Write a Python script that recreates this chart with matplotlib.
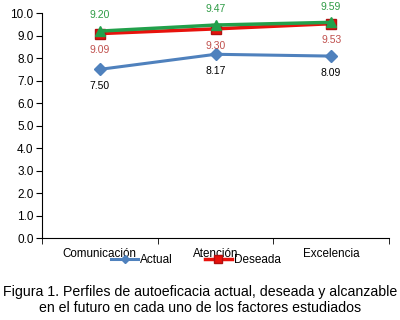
import numpy as np
import matplotlib
matplotlib.use('Agg')
import matplotlib.pyplot as plt

plt.rcParams['font.family'] = ['Liberation Sans', 'DejaVu Sans']

# ============================================
# 数据
# ============================================
categories = ['Comunicación', 'Atención', 'Excelencia']
actual = [7.50, 8.17, 8.09]
deseada = [9.09, 9.30, 9.53]
alcanzable = [9.20, 9.47, 9.59]
y_ticks = np.arange(0, 10.01, 1.0)

fig = plt.figure(figsize=(4.0, 3.2), dpi=100)
ax = fig.add_axes([0.105, 0.256, 0.8675, 0.703])

x = np.arange(1, len(categories) + 1)

l1, = ax.plot(x, actual, color='#4F81BD', lw=2.2, marker='D', ms=6,
              label='Actual', zorder=3)
l2, = ax.plot(x, deseada, color='#E8120C', lw=2.5, marker='s', ms=7,
              mec='#B01010', label='Deseada', zorder=3)
ax.plot(x, alcanzable, color='#22A04B', lw=2.5, marker='^', ms=7, zorder=4)

# 数据标签（偏移单位：points）
for xi, v in zip(x, alcanzable):
    ax.annotate(f'{v:.2f}', (xi, v), xytext=(0, 11.3), textcoords='offset points',
                ha='center', va='center', fontsize=7.5, color='#2E9B45',
                annotation_clip=False)
for xi, v in zip(x, deseada):
    ax.annotate(f'{v:.2f}', (xi, v), xytext=(0, -12), textcoords='offset points',
                ha='center', va='center', fontsize=7.5, color='#C0504D')
for xi, v in zip(x, actual):
    ax.annotate(f'{v:.2f}', (xi, v), xytext=(0, -12.2), textcoords='offset points',
                ha='center', va='center', fontsize=7.5, color='black')

ax.set_xlim(0.5, 3.5)
ax.set_ylim(0, 10)
ax.set_yticks(y_ticks)
ax.set_yticklabels([f'{v:.1f}' for v in y_ticks], fontsize=8.5)
ax.set_xticks(x)
ax.set_xticklabels(categories, fontsize=8.4)
ax.tick_params(axis='x', which='major', length=0, pad=7)
ax.set_xticks(np.arange(0.5, 3.6, 1.0), minor=True)
ax.tick_params(axis='x', which='minor', length=4, direction='out')
ax.tick_params(axis='y', length=4, direction='out', pad=2)

for s in ['top', 'right']:
    ax.spines[s].set_visible(False)

fig.legend(handles=[l1, l2], loc='center', bbox_to_anchor=(0.49, 0.1875),
           ncol=2, frameon=False, fontsize=8.5, handlelength=2.3,
           columnspacing=2.7, handletextpad=0.15, borderpad=0, borderaxespad=0,
           markerscale=0.75)

fig.text(0.5, 0.0625, 'Figura 1. Perfiles de autoeficacia actual, deseada y alcanzable\n'
         'en el futuro en cada uno de los factores estudiados',
         ha='center', va='center', fontsize=10.2, linespacing=1.2)

plt.savefig('out.png', dpi=100)
